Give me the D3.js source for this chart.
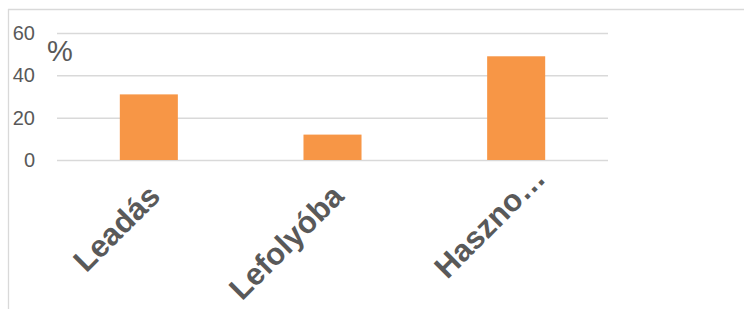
<!DOCTYPE html>
<html>
<head>
<meta charset="utf-8">
<script src="https://cdn.jsdelivr.net/npm/d3@7"></script>
<style>
  html, body { margin: 0; padding: 0; background: #fff; }
  svg { display: block; font-family: "Liberation Sans", Arial, sans-serif; }
</style>
</head>
<body>
<svg id="chart" width="744" height="309"></svg>
<script>
const categories = ["Leadás", "Lefolyóba", "Haszno…"];
const values = [31, 12, 49];
const yTicks = [0, 20, 40, 60];

const W = 744, H = 309;
const plot = { left: 57, right: 608, top: 33, bottom: 160 };
const gridColor = "#d9d9d9";
const textColor = "#595959";
const barColor = "#f79646";

const svg = d3.select("#chart");

// chart frame (only top and left edges are visible)
svg.append("line")
  .attr("x1", 8).attr("x2", W).attr("y1", 9.5).attr("y2", 9.5)
  .attr("stroke", gridColor).attr("stroke-width", 1.3);
svg.append("line")
  .attr("x1", 8.5).attr("x2", 8.5).attr("y1", 9).attr("y2", H)
  .attr("stroke", gridColor).attr("stroke-width", 1.3);

const x = d3.scaleBand()
  .domain(categories)
  .range([plot.left, plot.right])
  .padding(0);

const y = d3.scaleLinear()
  .domain([0, 60])
  .range([plot.bottom, plot.top]);

// gridlines + y labels
const yAxis = d3.axisLeft(y)
  .tickValues(yTicks)
  .tickSize(-(plot.right - plot.left))
  .tickPadding(22);

svg.append("g")
  .attr("transform", `translate(${plot.left},0)`)
  .call(yAxis)
  .call(g => g.select(".domain").remove())
  .call(g => g.selectAll(".tick line").attr("stroke", gridColor).attr("stroke-width", 1.5))
  .call(g => g.selectAll(".tick text")
    .attr("fill", textColor)
    .attr("font-size", 20)
    .attr("font-family", "Liberation Sans, Arial, sans-serif"));

// unit label
svg.append("text")
  .attr("x", 47)
  .attr("y", 61)
  .attr("fill", textColor)
  .attr("font-size", 29)
  .text("%");

// bars
const barW = x.bandwidth() * 0.316;
svg.append("g")
  .selectAll("rect")
  .data(values)
  .join("rect")
  .attr("x", (d, i) => x(categories[i]) + (x.bandwidth() - barW) / 2)
  .attr("y", d => y(d))
  .attr("width", barW)
  .attr("height", d => y(0) - y(d))
  .attr("fill", barColor);

// x labels, rotated -45
const xAxis = d3.axisBottom(x).tickSize(0).tickPadding(0);
svg.append("g")
  .attr("transform", `translate(0,${plot.bottom})`)
  .call(xAxis)
  .call(g => g.select(".domain").remove())
  .call(g => g.selectAll(".tick text")
    .attr("fill", textColor)
    .attr("font-size", 31)
    .attr("font-weight", "bold")
    .attr("font-family", "Liberation Sans, Arial, sans-serif")
    .attr("text-anchor", "end")
    .attr("dy", 0)
    .attr("transform", d => d.endsWith("…")
      ? "translate(31,20) rotate(-45)"
      : "translate(13,38) rotate(-45)"));
</script>
</body>
</html>
